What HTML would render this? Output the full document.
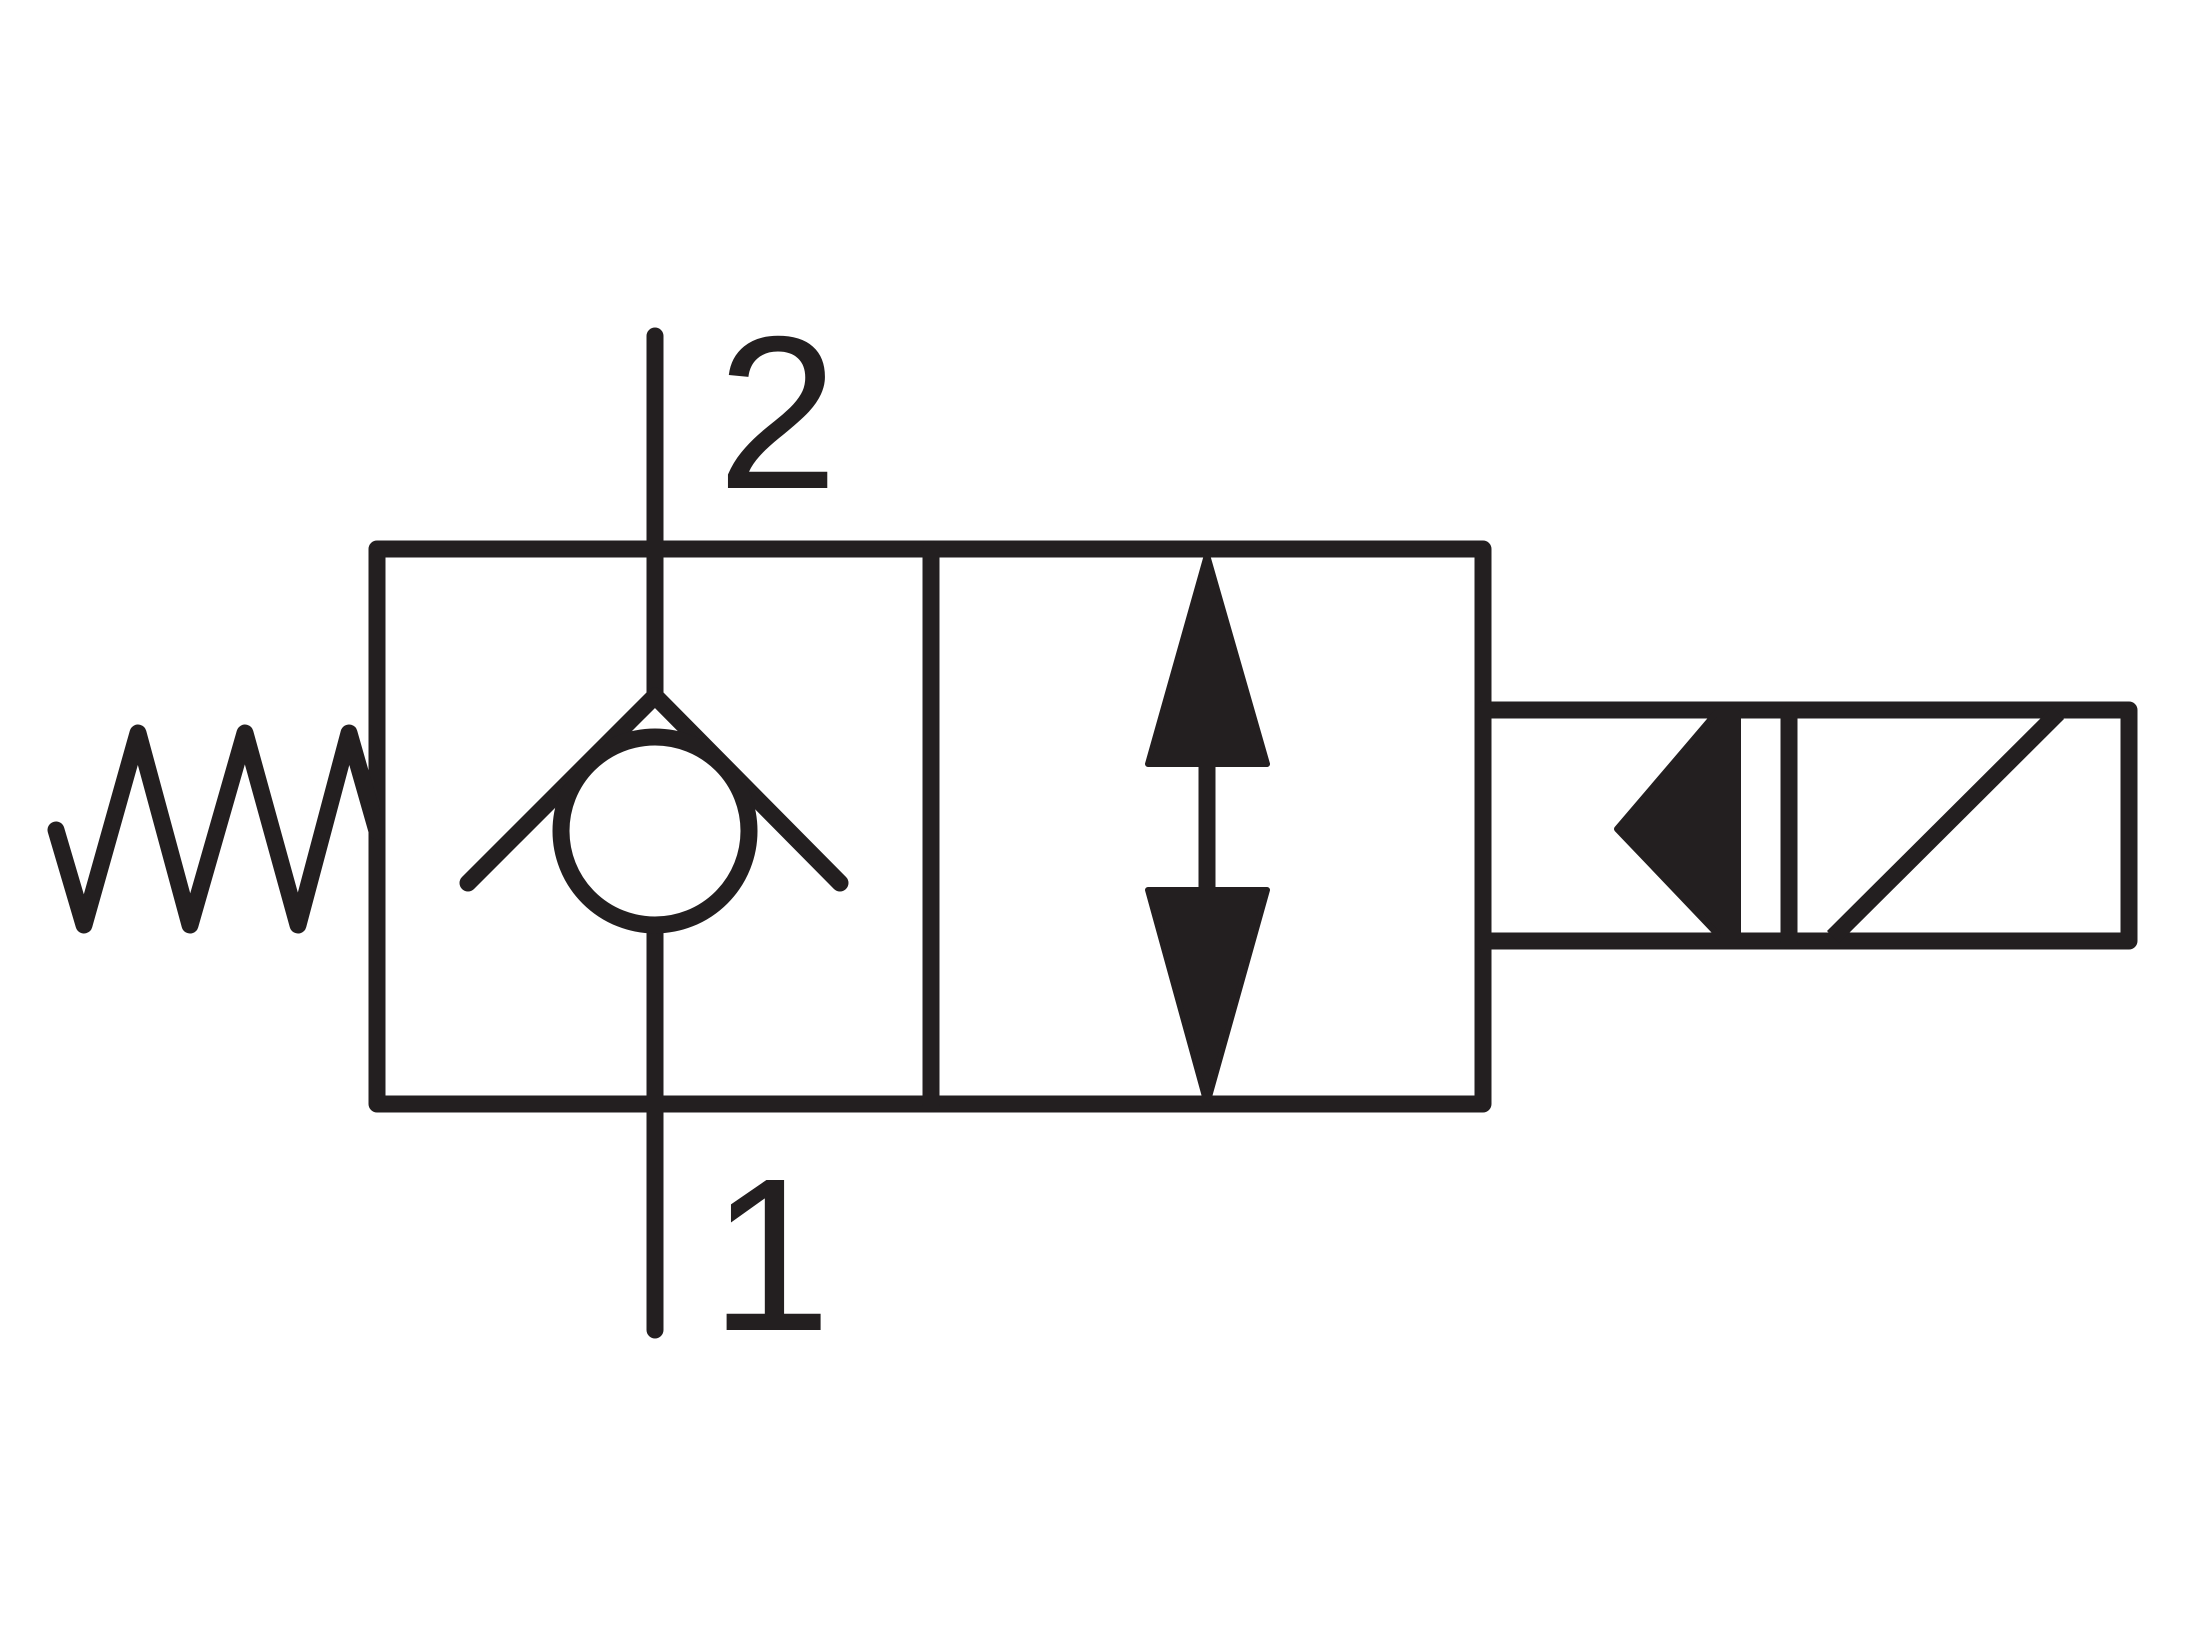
<!DOCTYPE html>
<html><head><meta charset="utf-8"><style>
html,body{margin:0;padding:0;background:#fff;}
svg{display:block;}
</style></head><body>
<svg width="2194" height="1646" viewBox="0 0 2194 1646" xmlns="http://www.w3.org/2000/svg">
<g stroke="#231f20" stroke-width="17" fill="none" stroke-linecap="round" stroke-linejoin="round">
  <rect x="377" y="549" width="1106" height="555"/>
  <line x1="931" y1="549" x2="931" y2="1104"/>
  <line x1="655" y1="336" x2="655" y2="696"/>
  <line x1="655" y1="926" x2="655" y2="1330"/>
  <polyline points="468,883 655,696 840,883"/>
  <circle cx="655" cy="831" r="94" fill="#fff"/>
  <polyline points="56,830 84,925 138,733 190,925 245,733 298,925 349,733 377,831"/>
  <line x1="1207" y1="766" x2="1207" y2="888"/>
  <rect x="1483" y="710" width="646" height="231"/>
  <line x1="1789" y1="710" x2="1789" y2="941"/>
  <line x1="2058" y1="713" x2="1833" y2="937" stroke-linecap="butt"/>
</g>
<g fill="#231f20" stroke="#231f20" stroke-width="6" stroke-linejoin="round">
  <polygon points="1207,555 1267,764 1148,764"/>
  <polygon points="1207,1104 1267,890 1148,890"/>
  <polygon points="1716,713 1738,713 1738,937 1720,937 1617,829"/>
</g>
<g font-family="Liberation Sans, Arial, sans-serif" font-size="218" fill="#231f20">
  <text x="717" y="488">2</text>
  <text x="710" y="1330">1</text>
</g>
</svg>
</body></html>
